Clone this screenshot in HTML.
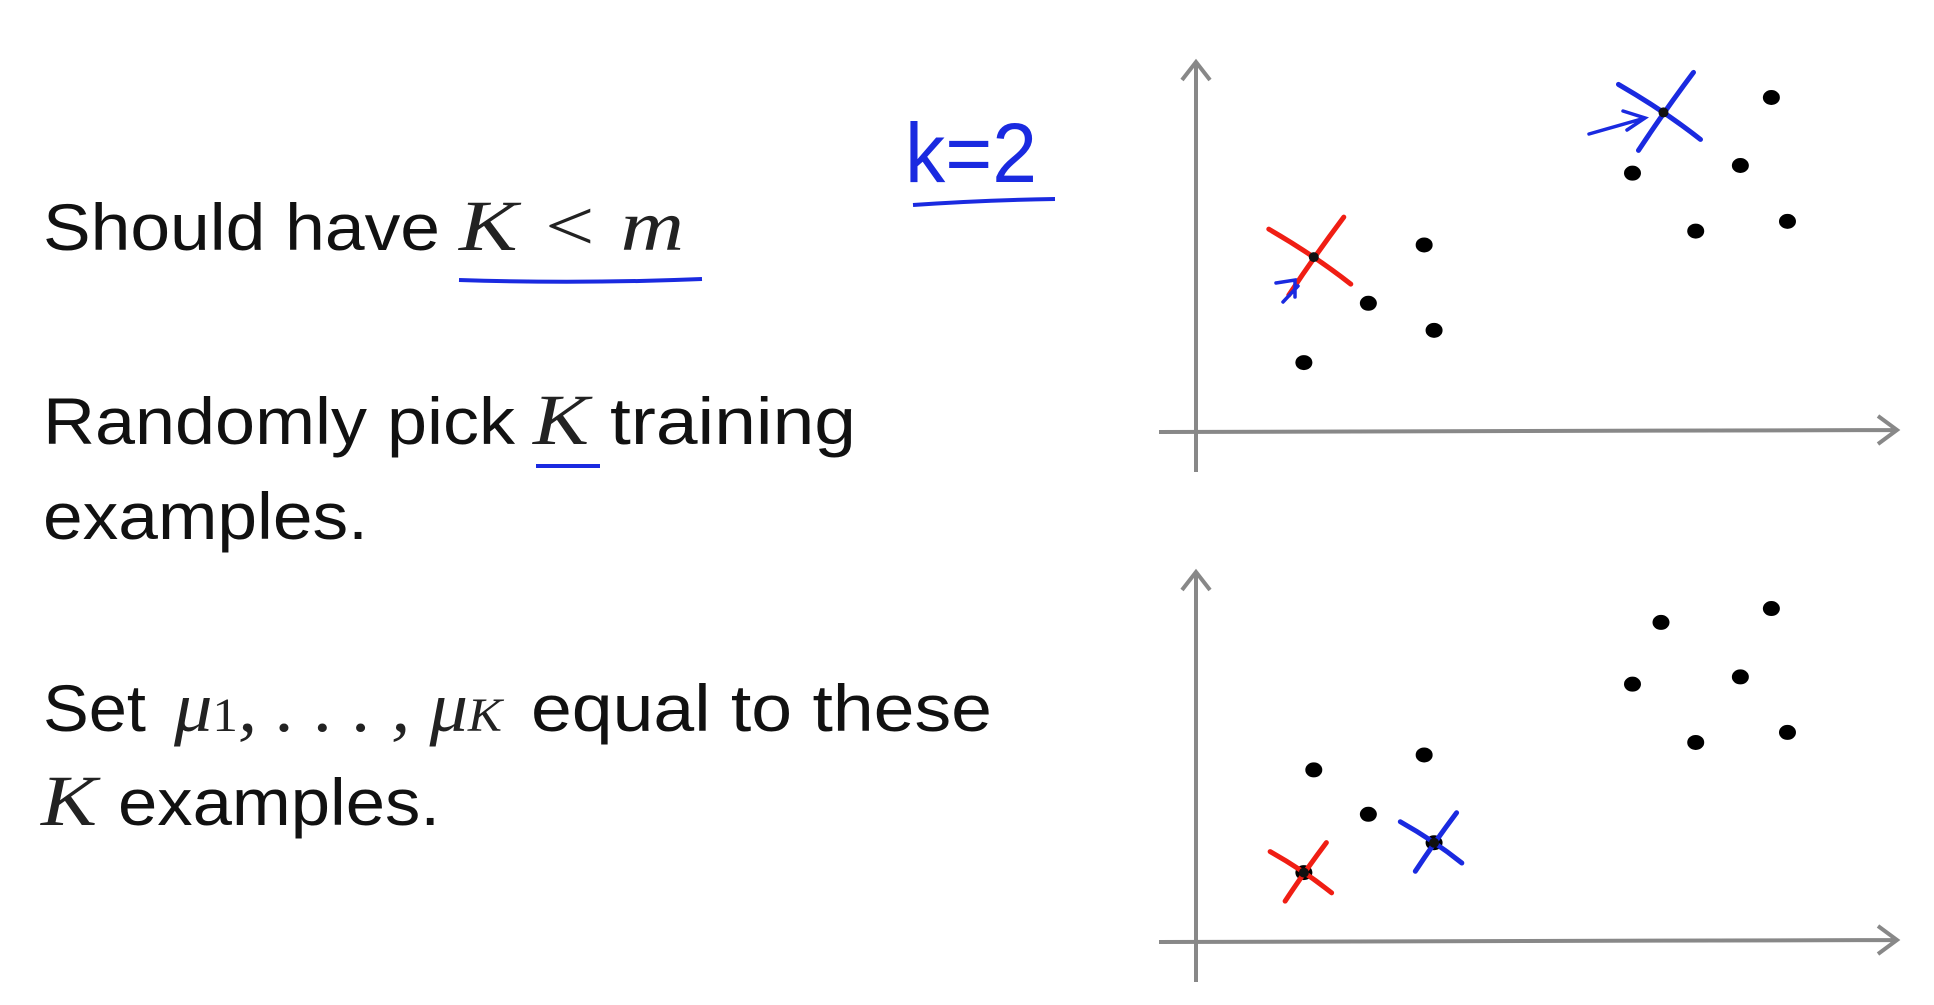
<!DOCTYPE html>
<html><head><meta charset="utf-8"><style>
html,body{margin:0;padding:0;background:#fff;}
svg{display:block}
.t{font-family:"Liberation Sans",sans-serif;font-size:66px;fill:#111}
.m{font-family:"Liberation Serif",serif;font-style:italic;font-size:72px;fill:#222}
</style></head><body>
<svg id="s" width="1934" height="1005" viewBox="0 0 1934 1005">
<g>
<text class="t" x="43" y="250" textLength="397" lengthAdjust="spacingAndGlyphs">Should have</text>
<text class="m" x="459" y="250" textLength="225" lengthAdjust="spacingAndGlyphs">K &lt; m</text>
<path d="M459 280 Q580 284 702 279" stroke="#1a2ae0" stroke-width="4" fill="none"/>
</g>
<g>
<text class="t" x="43" y="444" textLength="472" lengthAdjust="spacingAndGlyphs">Randomly pick</text>
<text class="m" x="533" y="444" textLength="56" lengthAdjust="spacingAndGlyphs">K</text>
<text class="t" x="610" y="444" textLength="246" lengthAdjust="spacingAndGlyphs">training</text>
<line x1="536" y1="466" x2="600" y2="466" stroke="#1a2ae0" stroke-width="4"/>
<text class="t" x="43" y="539" textLength="325" lengthAdjust="spacingAndGlyphs">examples.</text>
</g>
<g>
<text class="t" x="43" y="731" textLength="103" lengthAdjust="spacingAndGlyphs">Set</text>
<text class="m" x="174" y="731" textLength="328" lengthAdjust="spacingAndGlyphs">μ<tspan font-style="normal" font-size="48">1</tspan>, . . . , μ<tspan font-size="48">K</tspan></text>
<text class="t" x="531" y="731" textLength="461" lengthAdjust="spacingAndGlyphs">equal to these</text>
<text class="m" x="41" y="825" textLength="56" lengthAdjust="spacingAndGlyphs">K</text>
<text class="t" x="118" y="825" textLength="322" lengthAdjust="spacingAndGlyphs">examples.</text>
</g>
<g>
<text x="905" y="182" font-family="Liberation Sans,sans-serif" font-size="84" fill="#1a2ae0" textLength="132" lengthAdjust="spacingAndGlyphs">k=2</text>
<path d="M913 205 Q985 200 1055 199" stroke="#1a2ae0" stroke-width="4" fill="none"/>
</g>
<g id="charts"></g>
</svg>
<script>
const topX=[1.74,2.78,3.68,3.84,7.04,8.06,8.78,9.28,9.54];
const topY=[2.0,3.71,5.39,2.93,7.46,5.79,7.68,9.64,6.07];
const topCentroidX=[1.9,7.54];
const topCentroidY=[5.04,9.21];
const botX=[1.74,1.9,2.78,3.68,3.84,7.04,7.5,8.06,8.78,9.28,9.54];
const botY=[2.0,4.96,3.68,5.39,2.86,7.43,9.21,5.75,7.64,9.61,6.04];
const botCentroidX=[1.74,3.84];
const botCentroidY=[2.0,2.86];
const centroidColors=['#f01e14','#1a2ae0'];
const NS='http://www.w3.org/2000/svg';
const root=document.getElementById('charts');
function mk(tag,attrs,parent){const e=document.createElementNS(NS,tag);for(const k in attrs)e.setAttribute(k,attrs[k]);parent.appendChild(e);return e;}
function chart(name,oy,xs,ys,cx,cy,arrows){
  const g=mk('g',{},root);
  
  
  const ox=1196;
  const sx=v=>ox+v*62, sy=v=>oy-v*34.7;
  const ax=mk('path',{d:`M${ox} ${oy-370} L${ox} ${oy+40} M${ox-14} ${oy-352} L${ox} ${oy-370} L${ox+14} ${oy-352}`,stroke:'#888',fill:'none','stroke-width':4},g);
  
  
  const ax2=mk('path',{d:`M${ox-37} ${oy} L1897 ${oy-2} M1878 ${oy-16} L1897 ${oy-2} L1878 ${oy+12}`,stroke:'#888',fill:'none','stroke-width':4},g);
  
  
  for(let i=0;i<xs.length;i++){
    const c=mk('ellipse',{cx:sx(xs[i]),cy:sy(ys[i]),rx:8.5,ry:7.5,fill:'#000'},g);
    
    
  }
  for(let i=0;i<cx.length;i++){
    const x=sx(cx[i]),y=sy(cy[i]);
    const s=name==='top-chart'?1:0.75;
    const p=mk('path',{d:`M${x-45*s} ${y-28*s} Q${x} ${y-2} ${x+37*s} ${y+27*s} M${x+30*s} ${y-40*s} Q${x} ${y} ${x-25*s} ${y+38*s}`,stroke:centroidColors[i],'stroke-width':5,fill:'none','stroke-linecap':'round'},g);
    
    
    mk('circle',{cx:x,cy:y,r:5,fill:'#111'},g);
  }
  if(arrows){
    const a=mk('path',{d:`M1283 302 L1298 286 M1276 283 L1295 280 L1295 297 M1589 134 L1645 118 M1623 111 L1645 118 L1627 130`,stroke:'#1a2ae0','stroke-width':3.5,fill:'none','stroke-linecap':'round'},g);
    
    
  }
}
chart('top-chart',432,topX,topY,topCentroidX,topCentroidY,true);
chart('bottom-chart',942,botX,botY,botCentroidX,botCentroidY,false);
</script>
</body></html>
